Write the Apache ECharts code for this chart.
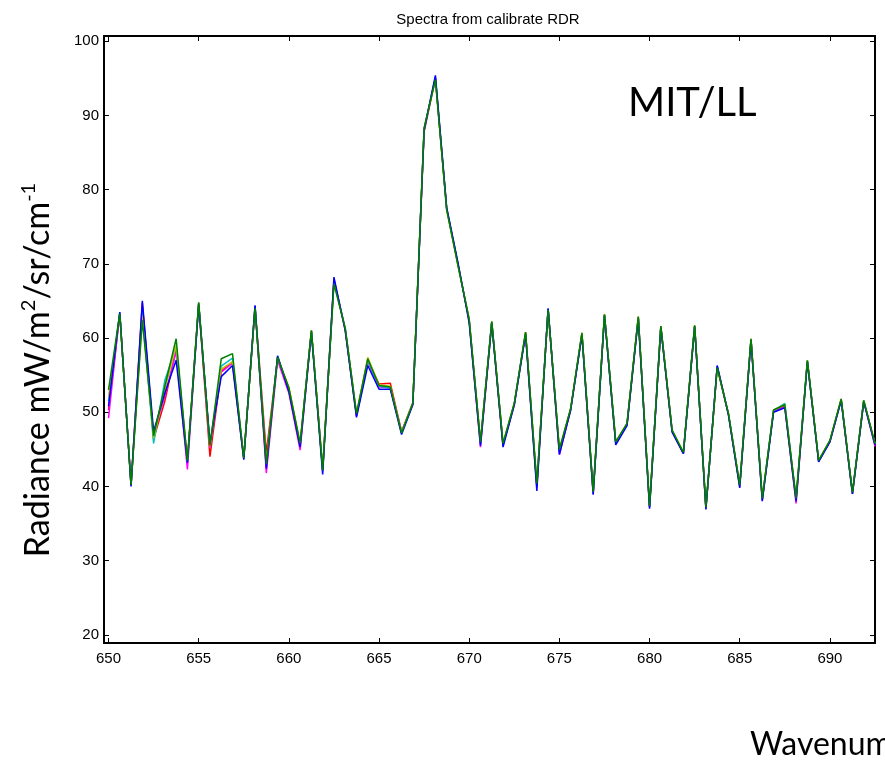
<!DOCTYPE html>
<html lang="en">
<head>
    <meta charset="UTF-8">
    <title>Spectra from calibrate RDR</title>
    <script src="https://cdn.jsdelivr.net/npm/echarts@6/dist/echarts.min.js"></script>
    <style>
        html, body { margin: 0; padding: 0; background: #fff; }
        #chart-container { width: 885px; height: 765px; }
    </style>
</head>
<body>
    <div id="chart-container"></div>

    <script>
        // wavenumber grid (cm-1)
        const wavenumbers = [650, 650.625, 651.25, 651.875, 652.5, 653.125, 653.75, 654.375, 655, 655.625,
            656.25, 656.875, 657.5, 658.125, 658.75, 659.375, 660, 660.625, 661.25, 661.875,
            662.5, 663.125, 663.75, 664.375, 665, 665.625, 666.25, 666.875, 667.5, 668.125,
            668.75, 669.375, 670, 670.625, 671.25, 671.875, 672.5, 673.125, 673.75, 674.375,
            675, 675.625, 676.25, 676.875, 677.5, 678.125, 678.75, 679.375, 680, 680.625,
            681.25, 681.875, 682.5, 683.125, 683.75, 684.375, 685, 685.625, 686.25, 686.875,
            687.5, 688.125, 688.75, 689.375, 690, 690.625, 691.25, 691.875, 692.5];

        // radiance spectra, one per detector
        const redSpec = [50.3, 63.2, 40.3, 64.7, 46.4, 51.5, 58.5, 43.4, 64.6, 44.0,
            55.5, 56.8, 43.9, 64.2, 44.5, 57.3, 53.2, 45.6, 61.0, 42.4,
            67.8, 61.2, 49.6, 57.0, 53.8, 53.9, 47.4, 51.3, 87.8, 95.0,
            77.4, 70.0, 62.4, 45.9, 62.1, 45.7, 51.1, 60.7, 40.1, 63.9,
            44.8, 50.4, 60.6, 39.2, 63.1, 45.9, 48.4, 62.8, 37.3, 61.5,
            47.5, 44.5, 61.6, 37.1, 56.1, 49.7, 40.1, 59.8, 38.3, 50.2,
            50.8, 38.3, 56.9, 43.4, 46.1, 51.7, 39.1, 51.5, 45.7];
        const magentaSpec = [49.2, 63.4, 40.1, 64.2, 46.9, 52.2, 58.2, 42.3, 64.6, 45.2,
            55.4, 56.6, 43.7, 64.3, 41.8, 57.0, 52.6, 44.9, 60.9, 42.1,
            67.9, 61.1, 49.5, 56.8, 53.4, 53.3, 47.3, 51.1, 88.1, 95.1,
            77.5, 70.0, 62.3, 45.3, 62.1, 45.5, 51.0, 60.6, 39.9, 63.9,
            44.3, 50.3, 60.5, 39.0, 63.1, 45.8, 48.3, 62.7, 37.2, 61.5,
            47.4, 44.4, 61.6, 37.0, 56.2, 49.7, 40.0, 59.8, 38.1, 50.1,
            50.7, 37.7, 56.9, 43.4, 46.0, 51.6, 39.0, 51.5, 45.4];
        const cyanSpec = [51.5, 63.4, 40.2, 63.6, 45.8, 54.3, 58.8, 43.3, 64.7, 45.6,
            56.2, 57.3, 43.8, 64.2, 43.2, 57.5, 53.1, 45.7, 61.0, 42.2,
            67.6, 61.4, 49.7, 57.0, 53.5, 53.3, 47.3, 51.2, 88.2, 95.1,
            77.4, 69.9, 62.4, 45.9, 62.2, 45.7, 51.2, 60.7, 40.2, 63.9,
            44.8, 50.4, 60.6, 39.2, 63.1, 45.9, 48.4, 62.8, 37.3, 61.6,
            47.5, 44.5, 61.6, 37.1, 56.2, 49.8, 40.1, 59.8, 38.3, 50.2,
            51.2, 38.3, 56.9, 43.4, 46.1, 51.7, 39.1, 51.6, 45.7];
        const yellowSpec = [52.0, 63.3, 40.2, 63.0, 46.5, 53.0, 59.0, 43.4, 64.7, 45.4,
            55.8, 56.8, 43.8, 64.1, 43.1, 57.4, 53.4, 45.8, 61.0, 42.2,
            67.5, 61.3, 49.8, 57.4, 53.7, 53.5, 47.2, 51.2, 88.2, 94.9,
            77.3, 69.8, 62.5, 46.0, 62.2, 45.8, 51.2, 60.8, 40.3, 63.8,
            44.9, 50.5, 60.7, 39.1, 63.2, 46.0, 48.5, 62.9, 37.3, 61.6,
            47.6, 44.6, 61.7, 37.1, 56.0, 49.8, 40.1, 59.9, 38.3, 50.3,
            51.0, 38.3, 57.0, 43.5, 46.2, 51.8, 39.1, 51.6, 45.8];
        const blueSpec = [50.8, 63.5, 40.0, 65.0, 47.4, 52.6, 57.0, 43.2, 64.5, 45.8,
            54.8, 56.3, 43.6, 64.4, 42.4, 57.6, 52.8, 45.3, 60.8, 41.6,
            68.2, 61.0, 49.3, 56.3, 53.1, 53.1, 47.0, 51.0, 88.0, 95.4,
            77.6, 70.2, 62.0, 45.5, 62.0, 45.3, 51.0, 60.5, 39.4, 64.0,
            44.3, 50.3, 60.4, 38.9, 63.0, 45.6, 48.2, 62.6, 37.0, 61.4,
            47.3, 44.4, 61.5, 36.9, 56.3, 49.6, 39.8, 59.7, 38.0, 50.0,
            50.6, 38.0, 56.8, 43.3, 46.0, 51.6, 39.0, 51.4, 45.6];
        const greenSpec = [53.0, 63.3, 40.2, 62.4, 46.8, 53.5, 59.9, 43.5, 64.8, 45.5,
            57.2, 57.9, 43.8, 64.0, 43.0, 57.4, 53.3, 45.8, 61.0, 42.2,
            67.3, 61.3, 49.8, 57.2, 53.6, 53.4, 47.2, 51.2, 88.3, 94.8,
            77.3, 69.8, 62.5, 46.0, 62.2, 45.8, 51.2, 60.8, 40.4, 63.8,
            45.0, 50.5, 60.7, 39.3, 63.2, 46.0, 48.5, 62.9, 37.4, 61.6,
            47.6, 44.6, 61.7, 37.2, 56.0, 49.8, 40.2, 59.9, 38.4, 50.3,
            51.0, 38.4, 57.0, 43.5, 46.2, 51.8, 39.2, 51.6, 45.8];

        const xTicks = [650, 655, 660, 665, 670, 675, 680, 685, 690];
        const yTicks = [20, 30, 40, 50, 60, 70, 80, 90, 100];

        const spectra = [
            { name: 'r', color: '#ff0000', values: redSpec },
            { name: 'm', color: '#ff00ff', values: magentaSpec },
            { name: 'c', color: '#00c0c0', values: cyanSpec },
            { name: 'y', color: '#c0c000', values: yellowSpec },
            { name: 'b', color: '#0000ff', values: blueSpec },
            { name: 'g', color: '#008000', values: greenSpec }
        ];

        const chart = echarts.init(document.getElementById('chart-container'));

        const tickFont = { color: '#000', fontSize: 15, fontFamily: 'Liberation Sans, Arial, sans-serif' };

        function xAx(pos, showLabel) {
            return {
                type: 'value', position: pos, min: 649.75, max: 692.5,
                axisLine: { show: true, onZero: false, lineStyle: { color: '#000', width: 2 } },
                axisTick: { show: true, inside: true, length: 5, customValues: xTicks, lineStyle: { color: '#000', width: 1 } },
                axisLabel: Object.assign({ show: showLabel, customValues: xTicks, margin: 8 }, tickFont),
                splitLine: { show: false }
            };
        }
        function yAx(pos, showLabel) {
            return {
                type: 'value', position: pos, min: 18.9, max: 100.7,
                axisLine: { show: true, onZero: false, lineStyle: { color: '#000', width: 2 } },
                axisTick: { show: true, inside: true, length: 5, customValues: yTicks, lineStyle: { color: '#000', width: 1 } },
                axisLabel: Object.assign({ show: showLabel, customValues: yTicks, margin: 5 }, tickFont),
                splitLine: { show: false }
            };
        }

        const option = {
            animation: false,
            backgroundColor: '#fff',
            title: {
                text: 'Spectra from calibrate RDR',
                left: 483, top: 7, textAlign: 'center',
                textStyle: { fontSize: 15, fontWeight: 'normal', color: '#000', fontFamily: 'Liberation Sans, Arial, sans-serif' }
            },
            grid: { left: 104, right: 10, top: 36, bottom: 122, containLabel: false },
            xAxis: [xAx('bottom', true), xAx('top', false)],
            yAxis: [yAx('left', true), yAx('right', false)],
            series: spectra.map(s => ({
                name: s.name,
                type: 'line',
                xAxisIndex: 0,
                yAxisIndex: 0,
                data: wavenumbers.map((w, i) => [w, s.values[i]]),
                showSymbol: false,
                symbol: 'none',
                lineStyle: { color: s.color, width: 1.5 },
                itemStyle: { color: s.color }
            })),
            graphic: [
                {
                    type: 'text', x: 38, y: 370, rotation: Math.PI / 2,
                    style: {
                        text: '{a|Radiance mW/m}{s|2}{a|/sr/cm}{s|-1}',
                        align: 'center', verticalAlign: 'middle',
                        rich: {
                            a: { fontSize: 34, fontFamily: 'Lato, Open Sans, sans-serif', fill: '#000', lineHeight: 38 },
                            s: { fontSize: 20, fontFamily: 'Lato, Open Sans, sans-serif', fill: '#000', verticalAlign: 'top', lineHeight: 38, padding: [0, 0, 16, 0] }
                        }
                    }
                },
                {
                    type: 'text', x: 628, y: 103,
                    style: { text: 'MIT/LL', fontSize: 40, fontFamily: 'Lato, Open Sans, sans-serif', fill: '#000', verticalAlign: 'middle' }
                },
                {
                    type: 'text', x: 750, y: 745,
                    style: { text: 'Wavenumber', fontSize: 32, fontFamily: 'Lato, Open Sans, sans-serif', fill: '#000', verticalAlign: 'middle' }
                }
            ]
        };

        chart.setOption(option);
    </script>
</body>
</html>
